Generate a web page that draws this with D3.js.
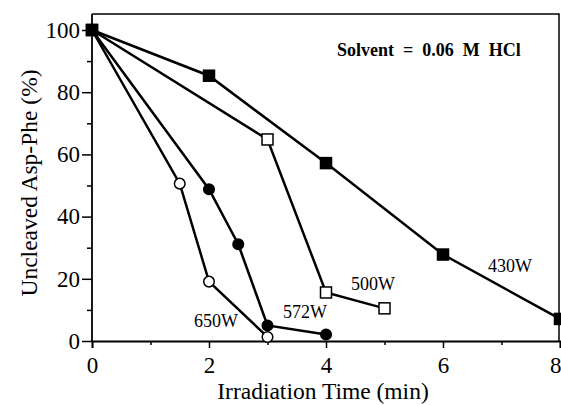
<!DOCTYPE html>
<html><head><meta charset="utf-8">
<script src="https://cdn.jsdelivr.net/npm/d3@7"></script>
<style>body{margin:0;background:#fff}svg{display:block}</style>
</head><body>
<svg id="c" width="561" height="405"></svg>
<script>
const xTicks = [0, 2, 4, 6, 8];
const yTicks = [0, 20, 40, 60, 80, 100];
const s430 = { name: "430W", marker: "square", filled: true,  t: [0, 2, 4, 6, 8], v: [100, 85.3, 57.2, 27.8, 7.1] };
const s500 = { name: "500W", marker: "square", filled: false, t: [0, 3, 4, 5], v: [100, 64.8, 15.6, 10.5] };
const s572 = { name: "572W", marker: "circle", filled: true,  t: [0, 2, 2.5, 3, 4], v: [100, 48.8, 31.1, 5.0, 2.1] };
const s650 = { name: "650W", marker: "circle", filled: false, t: [0, 1.5, 2, 3], v: [100, 50.6, 19.1, 1.3] };
const seriesList = [s430, s500, s572, s650];
const labelPos = { "430W": [510, 272], "500W": [373, 290], "572W": [305, 318], "650W": [216, 327] };

const svg = d3.select("#c");
const x = d3.scaleLinear().domain([0, 8]).range([92, 560]);
const y = d3.scaleLinear().domain([0, 100]).range([341, 30]);
const serif = "Liberation Serif, Times New Roman, serif";

// box
svg.append("path").attr("d", `M92,14 H559 V341`).attr("fill", "none").attr("stroke", "#000").attr("stroke-width", 1.5);

// axes
const xAxis = d3.axisBottom(x).tickValues(xTicks).tickSize(7).tickPadding(9).tickFormat(d3.format("d"));
const gx = svg.append("g").attr("transform", `translate(0,341)`).call(xAxis);
const xMinor = d3.axisBottom(x).tickValues([1, 3, 5, 7]).tickSize(4).tickFormat("");
svg.append("g").attr("transform", `translate(0,341)`).call(xMinor).select(".domain").remove();
const yAxis = d3.axisLeft(y).tickValues(yTicks).tickSize(10).tickPadding(2).tickFormat(d3.format("d"));
const gy = svg.append("g").attr("transform", `translate(92,0)`).call(yAxis);
const yMinor = d3.axisLeft(y).tickValues([10, 30, 50, 70, 90]).tickSize(5).tickFormat("");
svg.append("g").attr("transform", `translate(92,0)`).call(yMinor).select(".domain").remove();

svg.selectAll(".domain").attr("stroke-width", 1.8);
svg.selectAll(".tick line").attr("stroke-width", 1.5);
[gx, gy].forEach(g => g.selectAll("text").style("font-family", serif).style("font-size", "23px").attr("fill", "#000"));
gy.select(".domain").attr("d", "M0,14V341");
// keep the last x label inside the window
gx.selectAll(".tick text").filter(d => d === 8).attr("text-anchor", "end").attr("x", 1);

// lines & markers
const line = d3.line().x(d => x(d[0])).y(d => y(d[1]));
seriesList.forEach(s => {
  const pts = s.t.map((t, i) => [t, s.v[i]]);
  svg.append("path").datum(pts).attr("d", line).attr("fill", "none").attr("stroke", "#000").attr("stroke-width", 2.5);
});
seriesList.forEach(s => {
  const pts = s.t.map((t, i) => [t, s.v[i]]);
  if (s.marker === "square") {
    svg.selectAll(null).data(pts).enter().append("rect")
      .attr("x", d => x(d[0]) - 5.5).attr("y", d => y(d[1]) - 5.5).attr("width", 11).attr("height", 11)
      .attr("fill", s.filled ? "#000" : "#fff").attr("stroke", "#000").attr("stroke-width", 1.5);
  } else {
    svg.selectAll(null).data(pts).enter().append("circle")
      .attr("cx", d => x(d[0])).attr("cy", d => y(d[1])).attr("r", 5.3)
      .attr("fill", s.filled ? "#000" : "#fff").attr("stroke", "#000").attr("stroke-width", 1.5);
  }
  const lp = labelPos[s.name];
  svg.append("text").attr("x", lp[0]).attr("y", lp[1]).attr("text-anchor", "middle")
    .style("font-family", serif).style("font-size", "18px").text(s.name);
});
// shared origin drawn as filled square
svg.append("rect").attr("x", x(0) - 5.5).attr("y", y(100) - 5.5).attr("width", 11).attr("height", 11).attr("fill", "#000");

svg.append("text").attr("x", 429).attr("y", 56).attr("text-anchor", "middle")
  .style("font-family", serif).style("font-weight", "bold").style("font-size", "18px").style("white-space", "pre")
  .text("Solvent  =  0.06  M  HCl");

svg.append("text").attr("x", 323).attr("y", 399).attr("text-anchor", "middle")
  .style("font-family", serif).style("font-size", "23.5px").text("Irradiation Time (min)");
svg.append("text").attr("transform", "translate(37,183) rotate(-90)").attr("text-anchor", "middle")
  .style("font-family", serif).style("font-size", "23.5px").text("Uncleaved Asp-Phe (%)");
</script>
</body></html>
